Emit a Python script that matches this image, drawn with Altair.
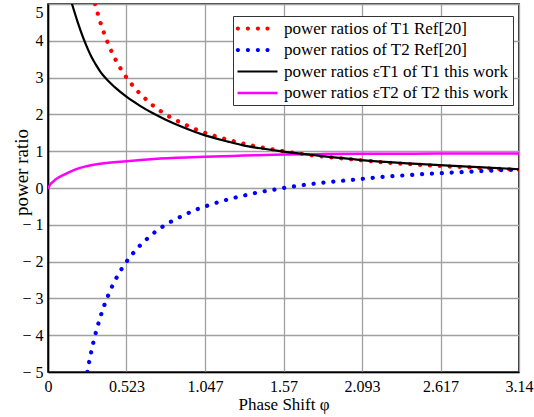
import altair as alt
import pandas as pd

FONT = "Liberation Serif"

# Ref[20] power ratio of T1
phi_t1_ref = [0.314, 0.35, 0.40, 0.45, 0.50, 0.55, 0.60, 0.65, 0.70, 0.80, 0.90, 1.00,
              1.10, 1.20, 1.30, 1.40, 1.50, 1.60, 1.80, 2.00, 2.20, 2.40, 2.60, 2.80, 3.00, 3.14]
ratio_t1_ref = [5.00, 4.49, 3.93, 3.49, 3.14, 2.86, 2.62, 2.42, 2.24, 1.96, 1.75, 1.57,
                1.43, 1.31, 1.21, 1.12, 1.05, 0.98, 0.87, 0.79, 0.71, 0.65, 0.60, 0.56, 0.52, 0.50]

# Ref[20] power ratio of T2
phi_t2_ref = [0.262, 0.28, 0.30, 0.35, 0.40, 0.45, 0.50, 0.55, 0.60, 0.65, 0.70, 0.80, 0.90,
              1.00, 1.10, 1.20, 1.30, 1.40, 1.50, 1.60, 1.80, 2.00, 2.20, 2.40, 2.60, 2.80, 3.00, 3.14]
ratio_t2_ref = [-5.00, -4.61, -4.24, -3.49, -2.93, -2.49, -2.14, -1.86, -1.62, -1.42, -1.24, -0.96, -0.75,
                -0.57, -0.43, -0.31, -0.21, -0.12, -0.05, 0.02, 0.13, 0.21, 0.29, 0.35, 0.40, 0.44, 0.48, 0.50]

# this work: εT2 of T2
phi_t2_new = [0.0, 0.02, 0.05, 0.111, 0.18, 0.245, 0.35, 0.523, 0.75, 1.047, 1.30, 1.57,
              1.80, 2.09, 2.60, 3.14]
ratio_t2_new = [0.0, 0.12, 0.23, 0.37, 0.50, 0.58, 0.66, 0.73, 0.80, 0.85, 0.88, 0.91,
                0.92, 0.93, 0.935, 0.94]

# this work: εT1 of T1
phi_t1_new = [0.16, 0.20, 0.233, 0.265, 0.291, 0.318, 0.351, 0.385, 0.445, 0.523, 0.611,
              0.70, 0.778, 0.90, 1.047, 1.20, 1.30, 1.45, 1.57, 1.80, 2.09, 2.40, 2.61,
              2.90, 3.14]
ratio_t1_new = [5.00, 4.48, 4.10, 3.78, 3.55, 3.36, 3.15, 2.98, 2.74, 2.48, 2.24,
                2.03, 1.87, 1.65, 1.43, 1.26, 1.16, 1.06, 0.99, 0.88, 0.76, 0.67, 0.62,
                0.56, 0.51]

series_names = [
    "power ratios of T1 Ref[20]",
    "power ratios of T2 Ref[20]",
    "power ratios εT1 of T1 this work",
    "power ratios εT2 of T2 this work",
]
series_colors = ["#ff0000", "#0000ff", "#000000", "#ff00ff"]


# legend glyphs (unit = 8 px at symbolSize 256): a row of dots, or a thin bar
def _dot(cx, r=0.26):
    return f"M{cx - r},0a{r},{r} 0 1,0 {2 * r},0a{r},{r} 0 1,0 {-2 * r},0"


DOTS = "".join(_dot(c) for c in (-0.95, 0.3, 1.55, 2.75))
BAR_THIN = "M-1,-0.14H4V0.14H-1Z"
BAR_WIDE = "M-1,-0.16H4V0.16H-1Z"
legend_shapes = [DOTS, DOTS, BAR_THIN, BAR_WIDE]

x_ticks = [0, 0.523, 1.047, 1.57, 2.093, 2.617, 3.14]
y_ticks = [-5, -4, -3, -2, -1, 0, 1, 2, 3, 4, 5]

curves = [
    (series_names[0], phi_t1_ref, ratio_t1_ref),
    (series_names[1], phi_t2_ref, ratio_t2_ref),
    (series_names[3], phi_t2_new, ratio_t2_new),
    (series_names[2], phi_t1_new, ratio_t1_new),
]
rows = []
for name, xs, ys in curves:
    for x, y in zip(xs, ys):
        rows.append({"series": name, "phi": x, "ratio": y})
df = pd.DataFrame(rows)

x_enc = alt.X(
    "phi:Q",
    scale=alt.Scale(domain=[0, 3.14], nice=False, zero=False),
    axis=alt.Axis(
        values=x_ticks,
        labelExpr="'' + datum.value",
        title="Phase Shift φ",
        labelFlush=False,
        labelPadding=6,
        titlePadding=2,
    ),
)
y_enc = alt.Y(
    "ratio:Q",
    scale=alt.Scale(domain=[-5, 5], nice=False),
    axis=alt.Axis(
        values=y_ticks,
        title="power ratio",
        labelExpr="datum.value < 0 ? '− ' + abs(datum.value) : '' + datum.value",
        labelBaseline={"condition": {"test": "datum.value == 5", "value": "top"}, "value": "middle"},
        labelPadding=5,
        titleX=-27,
        titleY=168,
        titleAngle=-90,
        titleAlign="center",
        titleBaseline="middle",
        titleFontSize=19,
    ),
)
legend = alt.Legend(
    title=None,
    orient="none",
    legendX=185,
    legendY=12,
    padding=4,
    rowPadding=3.5,
    labelOffset=30,
    labelFont=FONT,
    labelFontSize=17,
    labelColor="#000000",
    labelLimit=400,
    symbolSize=256,
    symbolStrokeWidth=0,
    fillColor="#ffffff",
    strokeColor="#333333",
    cornerRadius=0,
)


def curve_layer(name, color, dotted):
    style = dict(strokeCap="round", strokeJoin="round", clip=True, interpolate="monotone")
    if dotted:
        style.update(strokeWidth=4.2, strokeDash=[0.1, 9.8])
    else:
        style.update(strokeWidth=2.2 if color == "#000000" else 2.5)
    return (
        alt.Chart(df)
        .transform_filter(alt.datum.series == name)
        .mark_line(color=color, **style)
        .encode(x=x_enc, y=y_enc)
    )


layers = [
    curve_layer(series_names[0], series_colors[0], True),
    curve_layer(series_names[1], series_colors[1], True),
    curve_layer(series_names[3], series_colors[3], False),
    curve_layer(series_names[2], series_colors[2], False),
]

# legend keys only; no rows pass the filter so nothing is drawn in the plot
keys = (
    alt.Chart(df)
    .transform_filter("datum.phi < 0")
    .mark_point(filled=True, opacity=1, strokeWidth=0)
    .encode(
        x=x_enc,
        y=y_enc,
        color=alt.Color(
            "series:N", scale=alt.Scale(domain=series_names, range=series_colors), legend=legend
        ),
        shape=alt.Shape(
            "series:N", scale=alt.Scale(domain=series_names, range=legend_shapes), legend=legend
        ),
    )
)

chart = (
    alt.layer(*layers, keys)
    .properties(
        width=471,
        height=368,
        background="#ffffff",
        autosize=alt.AutoSizeParams(type="none"),
        padding={"left": 48, "top": 4, "right": 15, "bottom": 45},
    )
    .configure_view(stroke="#000000", strokeWidth=1.6)
    .configure_axis(
        labelFont=FONT,
        titleFont=FONT,
        labelFontSize=16,
        titleFontSize=17,
        titleFontWeight="normal",
        labelColor="#000000",
        titleColor="#000000",
        grid=True,
        gridColor="#a0a0a0",
        gridWidth=1.3,
        ticks=False,
        domainColor="#000000",
        domainWidth=1.6,
    )
)

chart.save("out.html", embed_options={"renderer": "svg", "actions": False})
